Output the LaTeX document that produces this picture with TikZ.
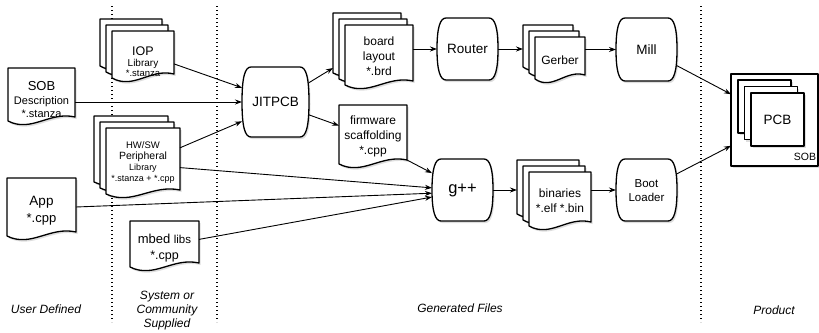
\documentclass[tikz,border=0pt]{standalone}
\usepackage{fontspec}
\setmainfont{Liberation Sans}
\usetikzlibrary{calc,fit,arrows.meta}

\newcommand\fsz[2]{\fontsize{#1}{#2}\selectfont}
% document sheet with wavy bottom
\newcommand\docpathof[2][]{\path[#1] (#2.north west) -- (#2.north east) -- ($(#2.south east)+(0,-4)$) .. controls ($(#2.south west)!0.62!(#2.south east)+(0,-10)$) and ($(#2.south west)!0.35!(#2.south east)+(0,12)$) .. (#2.south west) -- cycle;}
% process box with bowed sides
\newcommand\procpathof[2][]{\path[#1] ($(#2.north west)+(9,0)$) -- ($(#2.north east)+(-9,0)$) .. controls ($(#2.north east)+(-3,0)$) and ($(#2.north east)+(0,10)$) .. (#2.east) .. controls ($(#2.south east)+(0,-10)$) and ($(#2.south east)+(-3,0)$) .. ($(#2.south east)+(-9,0)$) -- ($(#2.south west)+(9,0)$) .. controls ($(#2.south west)+(3,0)$) and ($(#2.south west)+(0,-10)$) .. (#2.west) .. controls ($(#2.north west)+(0,10)$) and ($(#2.north west)+(3,0)$) .. cycle;}
% plain square
\newcommand\sqpathof[2][]{\path[#1] (#2.north west) rectangle (#2.south east);}
% one sheet with its shadow, shifted (canvas pt)
\newcommand\sheet[4]{%
  \begin{scope}[transform canvas={shift={(#3pt+1.5pt,#4pt-2pt)}}]#1[shadowst]{#2}\end{scope}
  \begin{scope}[transform canvas={shift={(#3pt,#4pt)}}]#1[shp]{#2}\end{scope}}
\newcommand\mkbox[5]{\node[inner sep=0pt, outer sep=0pt, fit={(#2,#3) (#4,#5)}] (#1) {};}

\tikzset{
  shp/.style={draw=black, line width=1.3pt, fill=white, line join=round},
  shadowst/.style={fill=black!13},
  arr/.style={line width=0.9pt, -{Stealth[length=7pt,width=5pt]}},
  sepline/.style={line width=1.2pt, dash pattern=on 1.2pt off 2.8pt},
  lbl/.style={font=\itshape\fsz{12}{14}, align=center, inner sep=0pt},
  txt/.style={align=center, inner sep=0pt},
}

\begin{document}
\begin{tikzpicture}[x=1pt,y=-1pt]
\useasboundingbox (0,0) rectangle (819,332);

% separators
\draw[sepline] (112,6) -- (112,322);
\draw[sepline] (217,6) -- (217,322);
\draw[sepline] (701,6) -- (701,322);

% geometry nodes
\mkbox{sob}{8}{68}{75}{121}
\mkbox{iop}{112}{31}{174}{78}
\mkbox{hw}{106}{128}{180}{194}
\mkbox{app}{7}{178}{76}{236}
\mkbox{mbed}{130}{221}{199}{267}
\mkbox{jit}{242}{67}{309}{137}
\mkbox{board}{345}{25}{413}{85}
\mkbox{fw}{339}{105}{407}{164}
\mkbox{router}{437}{18}{498}{80}
\mkbox{gerber}{535}{37}{585}{79}
\mkbox{mill}{616}{18}{677}{81}
\mkbox{gpp}{432}{159}{493}{221}
\mkbox{bin}{529}{172}{591}{226}
\mkbox{boot}{616}{159}{677}{221}
\mkbox{sobbox}{731}{74}{818}{166}
\mkbox{pcb}{751}{93}{804}{146}

% shapes
\sheet{\docpathof}{sob}{0}{0}
\sheet{\docpathof}{iop}{-12}{12}
\sheet{\docpathof}{iop}{-6}{6}
\sheet{\docpathof}{iop}{0}{0}
\sheet{\docpathof}{hw}{-12}{12}
\sheet{\docpathof}{hw}{-6}{6}
\sheet{\docpathof}{hw}{0}{0}
\sheet{\docpathof}{app}{0}{0}
\sheet{\docpathof}{mbed}{0}{0}
\sheet{\procpathof}{jit}{0}{0}
\sheet{\docpathof}{board}{-12}{12}
\sheet{\docpathof}{board}{-6}{6}
\sheet{\docpathof}{board}{0}{0}
\sheet{\docpathof}{fw}{0}{0}
\sheet{\procpathof}{router}{0}{0}
\sheet{\docpathof}{gerber}{-12}{12}
\sheet{\docpathof}{gerber}{-6}{6}
\sheet{\docpathof}{gerber}{0}{0}
\sheet{\procpathof}{mill}{0}{0}
\sheet{\procpathof}{gpp}{0}{0}
\sheet{\docpathof}{bin}{-12}{12}
\sheet{\docpathof}{bin}{-6}{6}
\sheet{\docpathof}{bin}{0}{0}
\sheet{\procpathof}{boot}{0}{0}
\sheet{\sqpathof}{sobbox}{0}{0}
\sheet{\sqpathof}{pcb}{-13}{13}
\sheet{\sqpathof}{pcb}{-6.5}{6.5}
\sheet{\sqpathof}{pcb}{0}{0}

% texts
\node[txt, font=\fsz{11}{13.5}] (sobT) at (41.5,100) {{\fsz{13}{13.5}SOB}\\Description\\*.stanza};
\node[txt, font=\fsz{10}{10.5}] (iopT) at (143,62) {{\fsz{12.5}{10.5}IOP}\\Library\\{\fsz{9.5}{10.5}*.stanza}};
\node[txt, font=\fsz{9}{11}] (hwT) at (143,162.5) {{\fsz{9.5}{11}HW/SW}\\{\fsz{10.5}{11}Peripheral}\\Library\\*.stanza + *.cpp};
\node[txt, font=\fsz{13}{17}] (appT) at (41.5,210.5) {{\fsz{13.5}{17}App}\\*.cpp};
\node[txt, font=\fsz{12.5}{16}] (mbedT) at (164.5,248) {{\fsz{13}{16}mbed} {\fsz{11.5}{16}libs}\\*.cpp};
\node[txt, font=\fsz{13.5}{14}] (jitT) at (jit.center) {JITPCB};
\node[txt, font=\fsz{12}{15}] (boardT) at (379,56) {board\\layout\\*.brd};
\node[txt, font=\fsz{12}{15}] (fwT) at (373,136) {firmware\\scaffolding\\*.cpp};
\node[txt, font=\fsz{13.5}{14}] (routerT) at (router.center) {Router};
\node[txt, font=\fsz{12}{14}] (gerberT) at (560,60) {Gerber};
\node[txt, font=\fsz{13.5}{14}] (millT) at (mill.center) {Mill};
\node[txt, font=\fsz{16.5}{17}] (gppT) at (gpp.center) {g++};
\node[txt, font=\fsz{12}{15}] (binT) at (560,200.5) {binaries\\*.elf *.bin};
\node[txt, font=\fsz{11.5}{14}] (bootT) at (646.5,191) {Boot\\Loader};
\node[txt, font=\fsz{13.5}{14}] (pcbT) at (pcb.center) {PCB};
\node[txt, font=\fsz{10.5}{12}] (sobL) at (805,157) {SOB};

% labels
\node[lbl] (l1) at (46,309) {User Defined};
\node[lbl] (l2) at (167,311) {System or\\Community\\Supplied};
\node[lbl] (l3) at (460,308) {Generated Files};
\node[lbl] (l4) at (774,310) {Product};

% connectors
\draw[arr] (sob.east |- jit.west) -- (jit.west);
\draw[arr] ($(iop.north east)!0.7!(iop.south east)$) -- (jit.157);
\draw[arr] ($(hw.north east)!0.3!(hw.south east)$) -- (jit.210);
\draw[arr] (jit.30) -- ($(board.west)+(-12,13)$);
\draw[arr] (jit.339) -- ($(fw.north west)!0.35!(fw.south west)$);
\draw[arr] (router.west -| board.east) -- (router.west);
\coordinate (gerberL) at ($(gerber.west)+(-12,0)$);
\draw[arr] (router.east) -- (router.east -| gerberL);
\draw[arr] (mill.west -| gerber.east) -- (mill.west);
\draw[arr] (mill.332) -- ($(sobbox.north west)!0.22!(sobbox.south west)$);
\draw[arr] (boot.28) -- ($(sobbox.north west)!0.78!(sobbox.south west)$);
\draw[arr] ($(fw.south east)+(0,-4)$) -- (gpp.151);
\draw[arr] ($(hw.north east)!0.6!(hw.south east)$) -- (gpp.176);
\draw[arr] (app.east) -- (gpp.186);
\draw[arr] ($(mbed.north east)!0.4!(mbed.south east)$) -- (gpp.193);
\coordinate (binL) at ($(bin.west)+(-12,0)$);
\draw[arr] (gpp.east) -- (gpp.east -| binL);
\draw[arr] (boot.west -| bin.east) -- (boot.west);
\end{tikzpicture}
\end{document}
